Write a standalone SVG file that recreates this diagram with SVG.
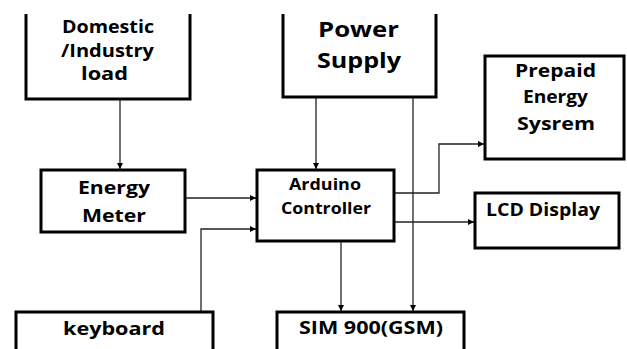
<svg xmlns="http://www.w3.org/2000/svg" width="627" height="349" viewBox="0 0 627 349">
<style>
.box{fill:#fff;stroke:#000;stroke-width:3}
.open{fill:none;stroke:#000;stroke-width:3}
.t{font-family:"Open Sans","DejaVu Sans",sans-serif;font-weight:700;fill:#000;font-size:18px}
.c{fill:none;stroke:#222;stroke-width:1.3}
</style>
<defs>
<marker id="ah" markerUnits="userSpaceOnUse" markerWidth="7" markerHeight="6" refX="6" refY="3" orient="auto">
<path d="M0,0 L6,3 L0,6 z" fill="#000"/>
</marker>
</defs>
<rect width="627" height="349" fill="#fff"/>
<g id="connectors">
<path class="c" d="M120,99 V169" marker-end="url(#ah)"/>
<path class="c" d="M185,198 H256" marker-end="url(#ah)"/>
<path class="c" d="M201,312 V229 H256" marker-end="url(#ah)"/>
<path class="c" d="M316,97 V169" marker-end="url(#ah)"/>
<path class="c" d="M413,97 V311" marker-end="url(#ah)"/>
<path class="c" d="M341,241 V311" marker-end="url(#ah)"/>
<path class="c" d="M394,193 H439 V144 H484" marker-end="url(#ah)"/>
<path class="c" d="M394,222 H474" marker-end="url(#ah)"/>
</g>
<g id="domestic">
<path class="open" d="M26,14 V99 H190 V14"/>
<text class="t" x="62" y="33" textLength="92" lengthAdjust="spacingAndGlyphs">Domestic</text>
<text class="t" x="61" y="57" textLength="93" lengthAdjust="spacingAndGlyphs">/Industry</text>
<text class="t" x="81" y="80" textLength="47" lengthAdjust="spacingAndGlyphs">load</text>
</g>
<g id="power">
<path class="open" d="M283,14 V97 H436 V14"/>
<text class="t" style="font-size:21px" x="318" y="37" textLength="81" lengthAdjust="spacingAndGlyphs">Power</text>
<text class="t" style="font-size:21px" x="317" y="68" textLength="84" lengthAdjust="spacingAndGlyphs">Supply</text>
</g>
<g id="prepaid">
<rect class="box" x="485" y="56" width="139" height="103"/>
<text class="t" x="515" y="77" textLength="81" lengthAdjust="spacingAndGlyphs">Prepaid</text>
<text class="t" x="523" y="103" textLength="65" lengthAdjust="spacingAndGlyphs">Energy</text>
<text class="t" x="517" y="130" textLength="78" lengthAdjust="spacingAndGlyphs">Sysrem</text>
</g>
<g id="energy-meter">
<rect class="box" x="41" y="170" width="144" height="62"/>
<text class="t" x="78" y="194" textLength="72" lengthAdjust="spacingAndGlyphs">Energy</text>
<text class="t" x="82" y="222" textLength="64" lengthAdjust="spacingAndGlyphs">Meter</text>
</g>
<g id="arduino">
<rect class="box" x="257" y="170" width="137" height="71"/>
<text class="t" style="font-size:16px" x="289" y="190" textLength="72" lengthAdjust="spacingAndGlyphs">Arduino</text>
<text class="t" style="font-size:16px" x="281" y="214" textLength="90" lengthAdjust="spacingAndGlyphs">Controller</text>
</g>
<g id="lcd">
<rect class="box" x="475" y="193" width="144" height="55"/>
<text class="t" style="font-size:17px" x="486" y="216" textLength="114" lengthAdjust="spacingAndGlyphs">LCD Display</text>
</g>
<g id="keyboard">
<path class="open" d="M16,352 V312 H213 V352"/>
<text class="t" x="63" y="335" textLength="102" lengthAdjust="spacingAndGlyphs">keyboard</text>
</g>
<g id="sim">
<path class="open" d="M277,352 V312 H464 V352"/>
<text class="t" x="299" y="334" textLength="144" lengthAdjust="spacingAndGlyphs">SIM 900(GSM)</text>
</g>
</svg>
